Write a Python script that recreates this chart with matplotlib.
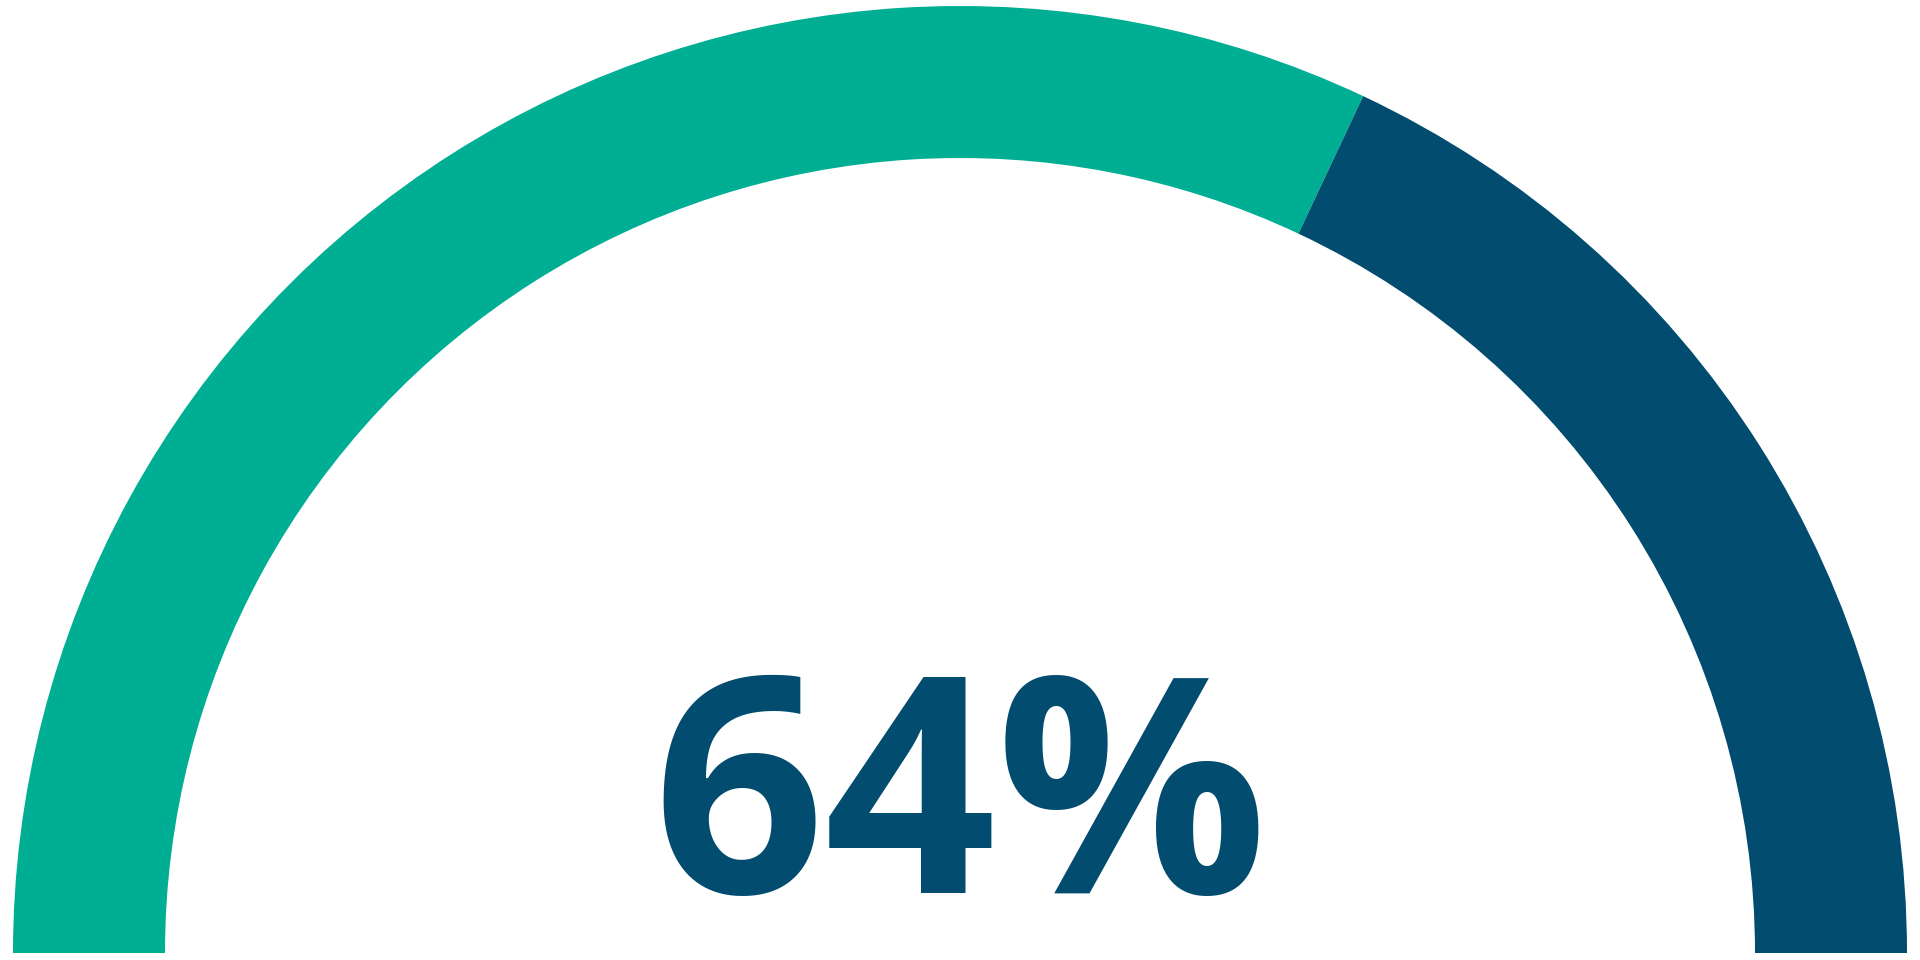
import matplotlib
matplotlib.use("Agg")
import matplotlib.pyplot as plt
from matplotlib.patches import Wedge

# gauge data
value = 64
total = 100
label = f"{value}%"

teal = "#00ae93"
navy = "#024c6f"

fig = plt.figure(figsize=(19.2, 9.6), dpi=100)
ax = fig.add_axes([0, 0, 1, 1])
ax.set_xlim(0, 1920)
ax.set_ylim(0, 960)
ax.set_axis_off()

# half-donut: angles run from 180 (left) to 0 (right)
cx, cy = 960, 7
r_out, ring = 947, 152
split = 180 - 180 * value / total

ax.add_patch(Wedge((cx, cy), r_out, split, 180, width=ring, facecolor=teal, edgecolor="none"))
ax.add_patch(Wedge((cx, cy), r_out, 0, split, width=ring, facecolor=navy, edgecolor="none"))

ax.text(cx, 67, label, ha="center", va="baseline", fontsize=217,
        fontweight="bold", family=["Open Sans", "DejaVu Sans"], color=navy)

fig.savefig("out.png", dpi=100, facecolor="white")
